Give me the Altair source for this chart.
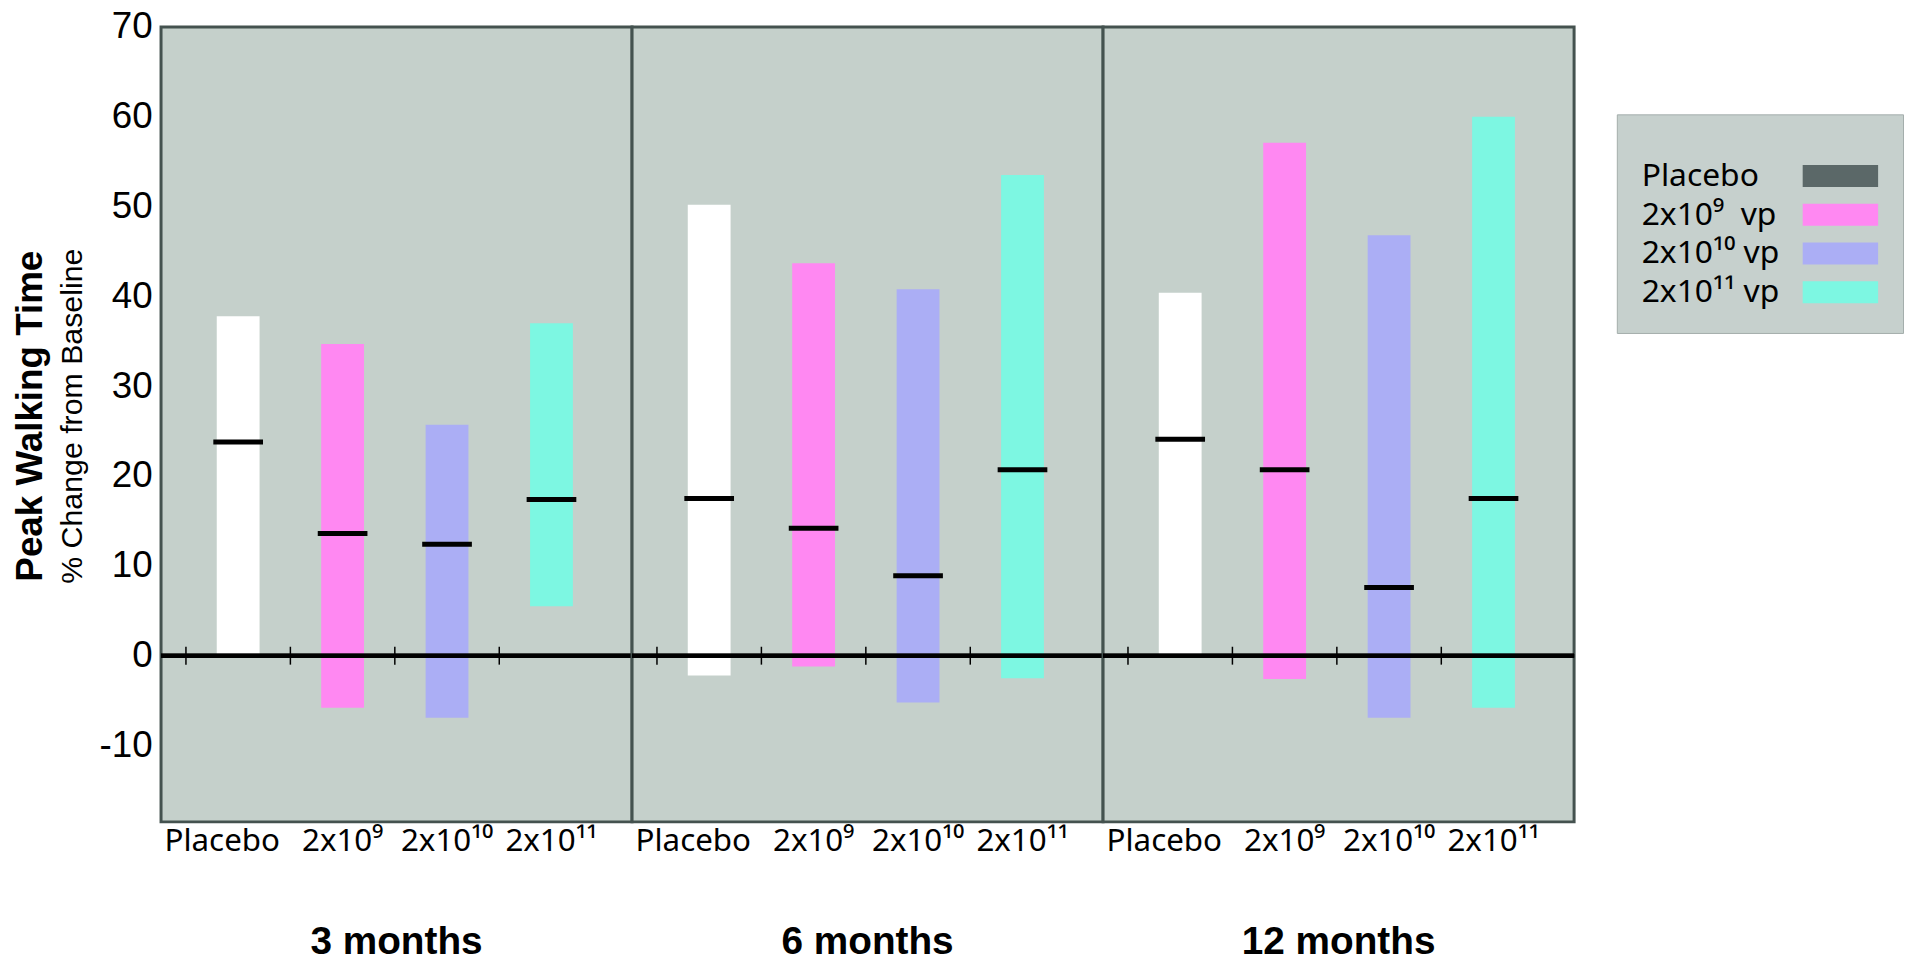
import altair as alt
import pandas as pd

FONT = "Liberation Sans"
SUP_FONT = "Noto Sans"

times = ["3 months", "6 months", "12 months"]
groups = ["Placebo", "2x10⁹", "2x10¹⁰", "2x10¹¹"]

# lower end, upper end and median line of each bar, per time point
low_3 = [0.0, -5.8, -6.9, 5.5]
high_3 = [37.8, 34.7, 25.7, 37.0]
med_3 = [23.8, 13.6, 12.4, 17.4]

low_6 = [-2.2, -1.2, -5.2, -2.5]
high_6 = [50.2, 43.7, 40.8, 53.5]
med_6 = [17.5, 14.2, 8.9, 20.7]

low_12 = [0.0, -2.6, -6.9, -5.8]
high_12 = [40.4, 57.1, 46.8, 60.0]
med_12 = [24.1, 20.7, 7.6, 17.5]

legend_colors = ["#5b6868", "#ff88f2", "#abaef5", "#7df7e2"]
y_ticks = [-10, 0, 10, 20, 30, 40, 50, 60, 70]

rows = []
for t, lo, hi, md in zip(times, [low_3, low_6, low_12], [high_3, high_6, high_12], [med_3, med_6, med_12]):
    for g, a, b, m in zip(groups, lo, hi, md):
        rows.append({"time": t, "group": g, "low": a, "high": b, "med": m})
df = pd.DataFrame(rows)

x_scale = alt.Scale(domain=groups, paddingInner=0.59, paddingOuter=0.55, align=0.485)
x_axis = alt.Axis(
    title=None, labelAngle=0, ticks=False, domain=False, grid=False,
    labelFont=SUP_FONT, labelFontSize=31.5, labelColor="black", labelPadding=4,
    labelOffset=alt.condition(alt.datum.value == "Placebo", alt.value(-16), alt.value(0)),
)
y_scale = alt.Scale(domain=[-18.5, 70], nice=False, zero=False)
y_axis = alt.Axis(
    title=None, values=y_ticks, ticks=False, domain=False, grid=False,
    labelFont=FONT, labelFontSize=37, labelColor="black", labelPadding=9,
    labelExpr="datum.value < 0 ? '-' + abs(datum.value) : '' + datum.value",
)

x_enc = alt.X("group:N", sort=groups, scale=x_scale, axis=x_axis)

bars = alt.Chart().mark_bar(opacity=1).encode(
    x=x_enc,
    y=alt.Y("low:Q", scale=y_scale, axis=y_axis),
    y2="high:Q",
    color=alt.condition(
        alt.datum.group == "Placebo",
        alt.value("white"),
        alt.Color(
            "group:N", sort=groups,
            scale=alt.Scale(domain=groups, range=legend_colors),
            legend=alt.Legend(
                orient="none", legendX=1465, legendY=88,
                title=" ", titleFontSize=14, titlePadding=7,
                labelFont=SUP_FONT, labelFontSize=32, labelColor="black",
                labelExpr="datum.label == 'Placebo' ? 'Placebo' : (datum.label == '2x10⁹' ? datum.label + '\u00a0\u00a0vp' : datum.label + ' vp')",
                symbolType="M-3.45,-1L3.45,-1L3.45,1L-3.45,1Z", symbolSize=484,
                symbolStrokeWidth=0, symbolOpacity=1,
                symbolOffset=184, labelOffset=alt.ExprRef(expr="-216"), rowPadding=7,
                padding=25, fillColor="#c6d0cd", strokeColor="#a3adab",
            ),
        ),
    ),
)

zero_line = alt.Chart().mark_rule(color="black", strokeWidth=4, opacity=1).encode(
    y=alt.datum(0, type="quantitative", scale=y_scale, axis=y_axis)
)

zero_ticks = alt.Chart().mark_tick(orient="vertical", color="black", thickness=1.5, size=18, opacity=1).encode(
    x=alt.X("group:N", sort=groups, scale=x_scale, axis=x_axis, bandPosition=0),
    xOffset=alt.value(-31),
    y=alt.datum(0, type="quantitative", scale=y_scale, axis=y_axis),
)

medians = alt.Chart().mark_tick(color="black", thickness=5, size=50, opacity=1).encode(
    x=x_enc,
    y=alt.Y("med:Q", scale=y_scale, axis=y_axis),
)

panel = alt.layer(bars, zero_line, zero_ticks, medians, data=df).properties(width=474, height=800)

chart = panel.facet(
    column=alt.Column(
        "time:N", sort=times, title=None,
        header=alt.Header(
            labelOrient="bottom", labelFont=FONT, labelFontSize=39, labelFontWeight="bold",
            labelColor="black", labelPadding=66,
        ),
    ),
    spacing=0,
    bounds="flush",
).properties(
    title=alt.TitleParams(
        text="Peak Walking Time", subtitle="% Change from Baseline",
        orient="left", anchor="middle", frame="bounds", dx=69,
        font=FONT, fontSize=37, fontWeight="bold", color="black",
        subtitleFont=FONT, subtitleFontSize=30.5, subtitleFontWeight="normal", subtitleColor="black",
        offset=10, subtitlePadding=8,
    ),
    padding={"left": 4, "top": -3, "right": 0, "bottom": 0},
).configure_view(
    fill="#c5d0cb", stroke="#44524f", strokeWidth=3,
)

chart.save("out.html", embed_options={"renderer": "svg", "actions": False})
